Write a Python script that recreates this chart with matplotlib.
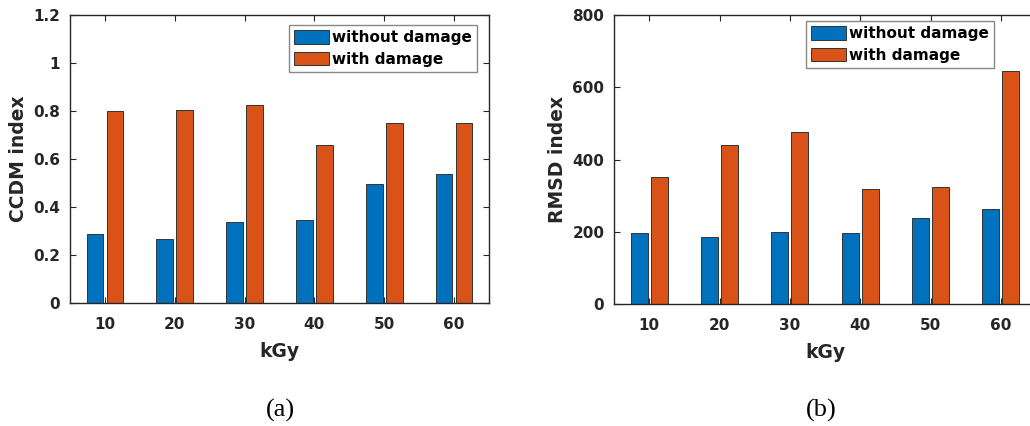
import numpy as np
import matplotlib.pyplot as plt

# Dose levels and the two damage conditions
doses = ['10', '20', '30', '40', '50', '60']
ccdm_without = [0.286, 0.268, 0.336, 0.346, 0.494, 0.537]
ccdm_with = [0.800, 0.804, 0.824, 0.657, 0.751, 0.749]
rmsd_without = [196, 186, 199, 197, 237, 263]
rmsd_with = [351, 439, 475, 319, 323, 645]

blue = '#0072BD'
orange = '#D95319'
dark = '#262626'

plt.rcParams['font.family'] = 'DejaVu Sans'
plt.rcParams['font.weight'] = 'bold'

fig = plt.figure(figsize=(10.30, 4.26), dpi=100)
W, H = 1030.0, 426.0

# axes boxes in pixels: left, top, right, bottom
ax1 = fig.add_axes([70 / W, 1 - 303 / H, 419 / W, 288 / H])
ax2 = fig.add_axes([614 / W, 1 - 304 / H, 422 / W, 289 / H])

x = np.arange(1, len(doses) + 1)
bw = 0.24
off = 0.143


def draw(ax, without, with_, ylim, yticks, ylabel, leg_xy):
    ax.bar(x - off, without, bw, color=blue, edgecolor='#333333', linewidth=0.7,
           label='without damage')
    ax.bar(x + off, with_, bw, color=orange, edgecolor='#333333', linewidth=0.7,
           label='with damage')
    ax.set_xlim(0.5, 6.5)
    ax.set_ylim(*ylim)
    ax.set_xticks(x)
    ax.set_xticklabels(doses)
    ax.set_yticks(yticks)
    ax.tick_params(direction='in', length=4, width=0.8, top=True, right=True,
                   colors=dark, labelsize=11, pad=7)
    ax.tick_params(axis='x', pad=10)
    for s in ax.spines.values():
        s.set_color(dark)
        s.set_linewidth(1.0)
    ax.set_xlabel('kGy', fontsize=13.5, fontweight='bold', color=dark, labelpad=7)
    ax.set_ylabel(ylabel, fontsize=13.5, fontweight='bold', color=dark, labelpad=4)
    leg = ax.legend(loc='upper left', bbox_to_anchor=(leg_xy[0] / W, 1 - leg_xy[1] / H),
                    bbox_transform=fig.transFigure, fontsize=11, fancybox=False,
                    edgecolor='#888888', framealpha=1, handlelength=2.3,
                    handleheight=1.0, handletextpad=0.15, labelspacing=0.4,
                    borderpad=0.35, borderaxespad=0)
    leg.get_frame().set_linewidth(1.0)


draw(ax1, ccdm_without, ccdm_with, (0, 1.2), [0, 0.2, 0.4, 0.6, 0.8, 1, 1.2],
     'CCDM index', (289, 25))
ax1.set_yticklabels(['0', '0.2', '0.4', '0.6', '0.8', '1', '1.2'])
draw(ax2, rmsd_without, rmsd_with, (0, 800), [0, 200, 400, 600, 800],
     'RMSD index', (806, 21))

fig.text(280 / W, 1 - 410 / H, '(a)', family='Liberation Serif', fontweight='normal',
         fontsize=19, ha='center', va='center')
fig.text(821 / W, 1 - 410 / H, '(b)', family='Liberation Serif', fontweight='normal',
         fontsize=19, ha='center', va='center')

fig.savefig('out.png', dpi=100)
